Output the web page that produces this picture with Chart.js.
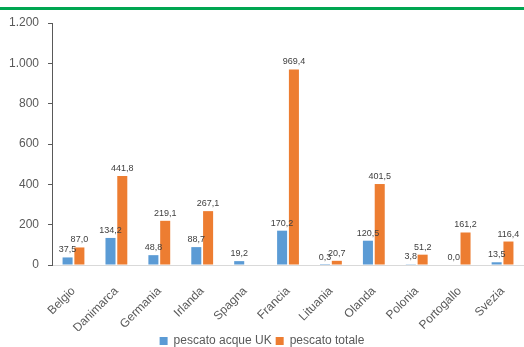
<!DOCTYPE html>
<html>
<head>
<meta charset="utf-8">
<script src="https://cdn.jsdelivr.net/npm/chart.js@4.4.1/dist/chart.umd.min.js"></script>
<style>
  html, body { margin: 0; padding: 0; background: #fff; }
  #wrap { position: relative; width: 524px; height: 347px; }
  #topline { position: absolute; left: 0; top: 7px; width: 524px; height: 3px; background: #00a651; }
  canvas { display: block; }
</style>
</head>
<body>
<div id="wrap">
  <div id="topline"></div>
  <canvas id="chart" width="524" height="347"></canvas>
</div>
<script>
const paesi = ['Belgio', 'Danimarca', 'Germania', 'Irlanda', 'Spagna', 'Francia', 'Lituania', 'Olanda', 'Polonia', 'Portogallo', 'Svezia'];
const pescatoUK = [37.5, 134.2, 48.8, 88.7, 19.2, 170.2, 0.3, 120.5, 3.8, 0.0, 13.5];
const pescatoTotale = [87.0, 441.8, 219.1, 267.1, null, 969.4, 20.7, 401.5, 51.2, 161.2, 116.4];

function fmtMigliaia(v) {
  return String(v).replace(/\B(?=(\d{3})+(?!\d))/g, '.');
}
function fmtDecimale(v) {
  return v.toFixed(1).replace('.', ',');
}

// etichette sopra le barre
const etichette = {
  id: 'etichette',
  afterDatasetsDraw(chart) {
    const ctx = chart.ctx;
    ctx.save();
    ctx.font = '9px "Liberation Sans", Arial, sans-serif';
    ctx.fillStyle = '#404040';
    ctx.textAlign = 'center';
    ctx.textBaseline = 'bottom';
    chart.data.datasets.forEach((ds, i) => {
      const meta = chart.getDatasetMeta(i);
      meta.data.forEach((bar, j) => {
        const v = ds.data[j];
        if (v === null || v === undefined) return;
        ctx.fillText(fmtDecimale(v), bar.x, bar.y - 3);
      });
    });
    ctx.restore();
  }
};

Chart.defaults.font.family = '"Liberation Sans", Arial, sans-serif';
Chart.defaults.color = '#595959';

const ctx = document.getElementById('chart').getContext('2d');
new Chart(ctx, {
  type: 'bar',
  data: {
    labels: paesi,
    datasets: [
      { label: 'pescato acque UK', data: pescatoUK, backgroundColor: '#5b9bd5',
        categoryPercentage: 0.55, barPercentage: 0.85 },
      { label: 'pescato totale', data: pescatoTotale, backgroundColor: '#ed7d31',
        categoryPercentage: 0.55, barPercentage: 0.85 }
    ]
  },
  options: {
    responsive: false,
    animation: false,
    layout: { padding: { top: 23, right: 0, left: 0, bottom: -10 } },
    plugins: {
      legend: {
        position: 'bottom',
        labels: { boxWidth: 8, boxHeight: 8, font: { size: 12 }, color: '#595959', padding: 4 }
      },
      tooltip: { enabled: false }
    },
    scales: {
      x: {
        grid: { display: false },
        border: { color: '#d9d9d9', width: 1 },
        ticks: { maxRotation: 45, minRotation: 45, font: { size: 12 }, color: '#595959', padding: 11 },
        afterFit: s => { s.height = 66; }
      },
      y: {
        min: 0, max: 1200,
        grid: { drawOnChartArea: false, drawTicks: true, tickLength: 4, color: '#595959' },
        border: { color: '#595959', width: 1 },
        ticks: { stepSize: 200, font: { size: 12 }, color: '#595959', padding: 9,
          callback: v => fmtMigliaia(v) }
      }
    }
  },
  plugins: [etichette]
});
</script>
</body>
</html>
